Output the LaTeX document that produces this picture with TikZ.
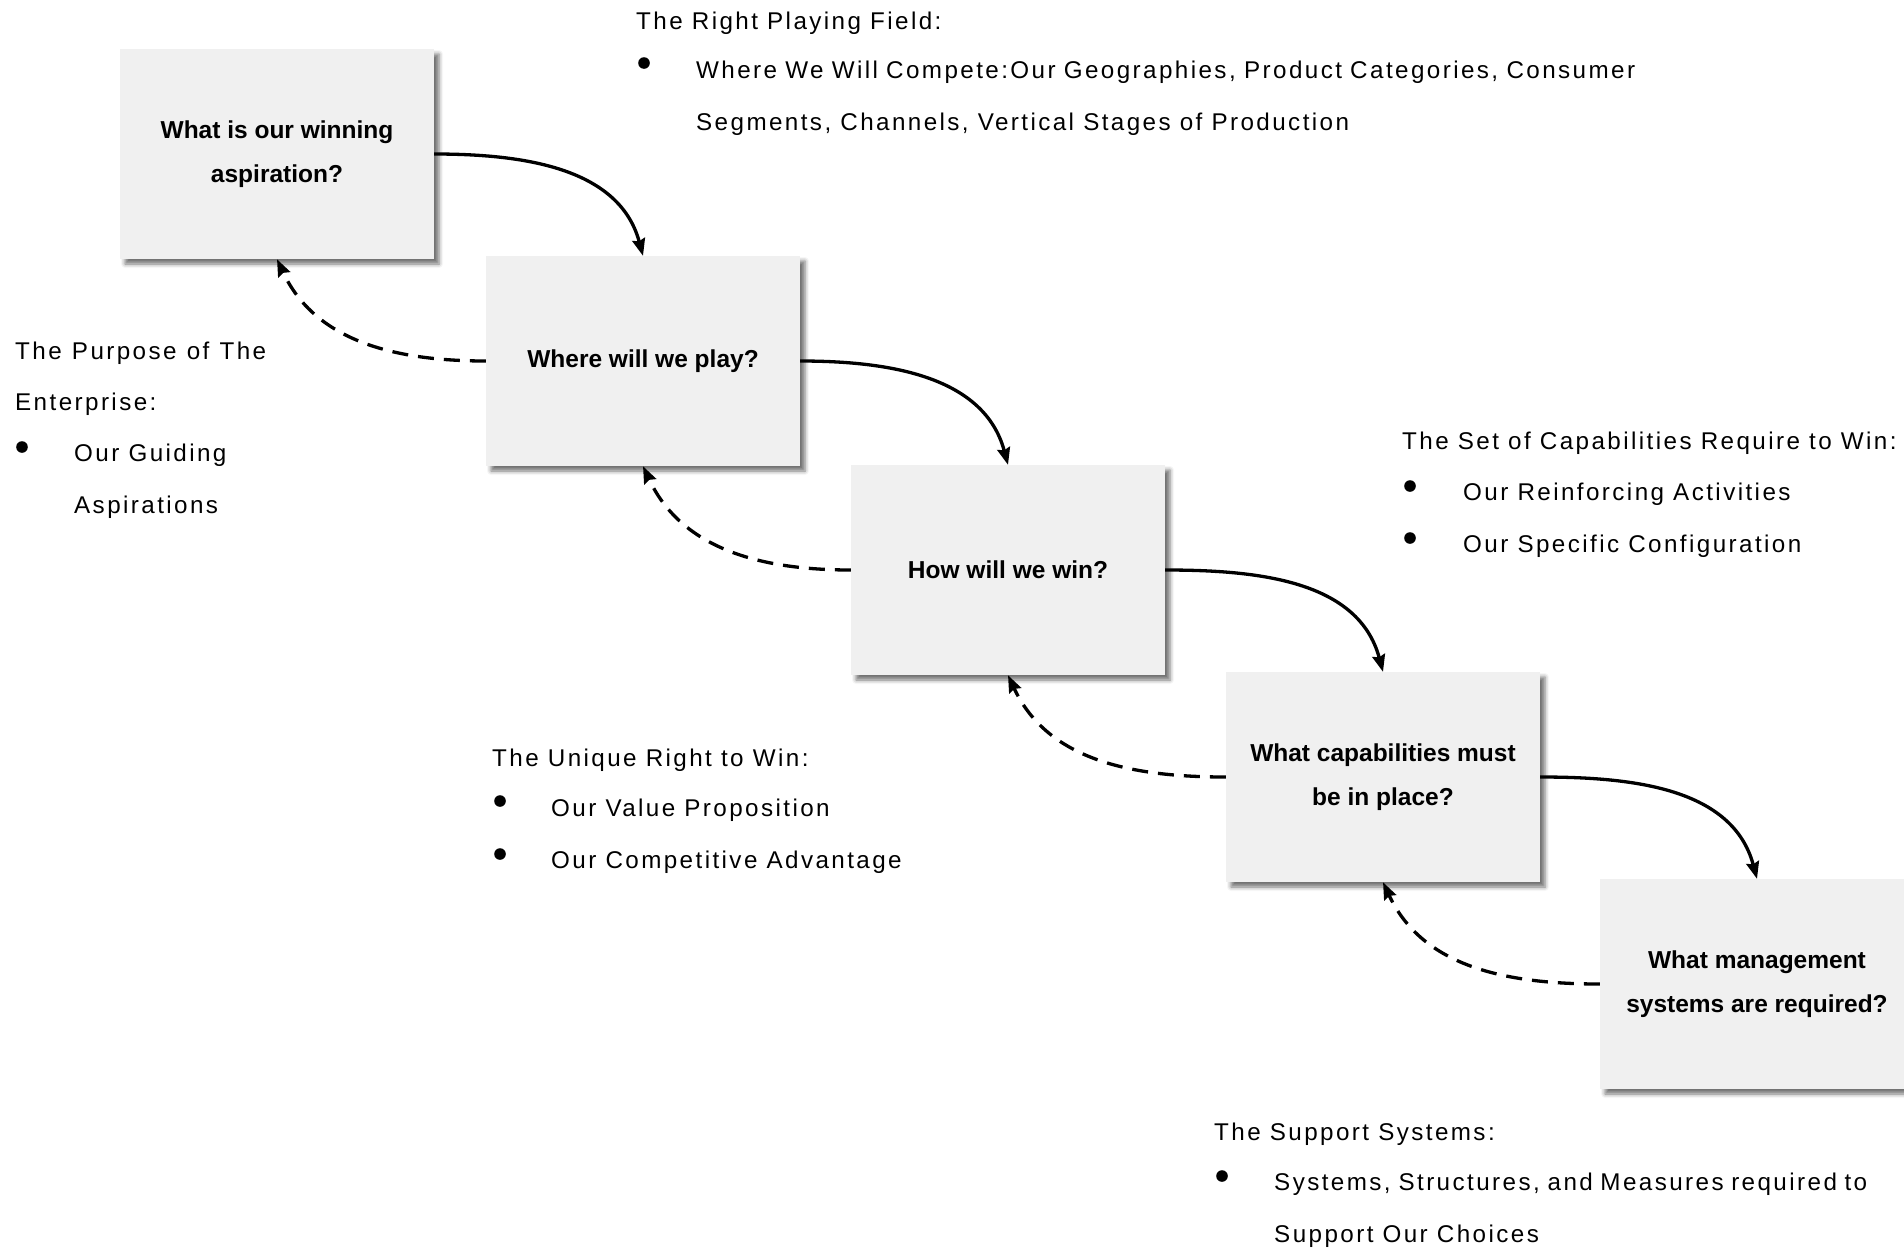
\documentclass[tikz,border=0pt]{standalone}
\usepackage{fontspec}
\setmainfont{Liberation Sans}
\newfontfamily\notefont[LetterSpace=10]{Liberation Sans}
\usetikzlibrary{arrows.meta,shadows.blur}

\definecolor{boxgray}{HTML}{F0F0F0}
\newcommand\qfont{\fontsize{24.5}{44}\selectfont\bfseries}
\newcommand\nfont{\notefont\fontsize{24.2}{29}\selectfont}

\tikzset{
  qbox/.style={fill=boxgray, minimum width=314pt, minimum height=210pt,
    inner sep=0pt, align=center, font=\qfont,
    blur shadow={shadow xshift=5pt, shadow yshift=-5pt,
      shadow blur radius=4pt, shadow opacity=55}},
  fwd/.style={line width=3.3pt, -{Stealth[length=17pt,width=13pt,inset=2pt]}},
  back/.style={fwd, dash pattern=on 16pt off 10pt},
  note/.style={anchor=base west, inner sep=0pt, font=\nfont},
  dot/.style={fill=black},
}

\begin{document}
\begin{tikzpicture}[x=1pt,y=1pt]
  \path[use as bounding box] (0,0) rectangle (1904,-1248);
  \clip (0,0) rectangle (1904,-1248);

  % question boxes, stepping down to the right
  \node[qbox] (b1) at (277,-154)  {What is our winning\\aspiration?};
  \node[qbox] (b2) at (643,-361)  {Where will we play?};
  \node[qbox] (b3) at (1008,-570) {How will we win?};
  \node[qbox] (b4) at (1383,-777) {What capabilities must\\be in place?};
  \node[qbox] (b5) at (1757,-984) {What management\\systems are required?};

  % forward flow
  \draw[fwd] (b1.east) to[out=0,in=105] (b2.north);
  \draw[fwd] (b2.east) to[out=0,in=105] (b3.north);
  \draw[fwd] (b3.east) to[out=0,in=105] (b4.north);
  \draw[fwd] (b4.east) to[out=0,in=105] (b5.north);

  % feedback loops
  \draw[back] (b2.west) to[out=180,in=-65] (b1.south);
  \draw[back] (b3.west) to[out=180,in=-65] (b2.south);
  \draw[back] (b4.west) to[out=180,in=-65] (b3.south);
  \draw[back] (b5.west) to[out=180,in=-65] (b4.south);

  % The Right Playing Field
  \node[note] (rpf) at (636,-29) {The Right Playing Field:};
  \fill[dot] (644,-63) circle (5.8pt);
  \node[note] (rpf1) at (696,-78)
    {\makebox[939pt][s]{Where We Will Compete:Our Geographies, Product Categories, Consumer}};
  \node[note] (rpf2) at (696,-130) {Segments, Channels, Vertical Stages of Production};

  % The Purpose of The Enterprise
  \node[note] (pur) at (15,-359) {\makebox[251pt][s]{The Purpose of The}};
  \node[note] (pur0) at (15,-410) {Enterprise:};
  \fill[dot] (22,-447) circle (5.8pt);
  \node[note] (pur1) at (74,-461) {Our Guiding};
  \node[note] (pur2) at (74,-513) {Aspirations};

  % The Set of Capabilities
  \node[note] (cap) at (1402,-449) {The Set of Capabilities Require to Win:};
  \fill[dot] (1410,-486) circle (5.8pt);
  \node[note] (cap1) at (1463,-500) {Our Reinforcing Activities};
  \fill[dot] (1410,-538) circle (5.8pt);
  \node[note] (cap2) at (1463,-552) {Our Specific Configuration};

  % The Unique Right to Win
  \node[note] (uni) at (492,-766) {The Unique Right to Win:};
  \fill[dot] (500,-801) circle (5.8pt);
  \node[note] (uni1) at (551,-816) {Our Value Proposition};
  \fill[dot] (500,-854) circle (5.8pt);
  \node[note] (uni2) at (551,-868) {Our Competitive Advantage};

  % The Support Systems
  \node[note] (sup) at (1214,-1140) {The Support Systems:};
  \fill[dot] (1222,-1176) circle (5.8pt);
  \node[note] (sup1) at (1274,-1190)
    {\makebox[593pt][s]{Systems, Structures, and Measures required to}};
  \node[note] (sup2) at (1274,-1242) {Support Our Choices};
\end{tikzpicture}
\end{document}
